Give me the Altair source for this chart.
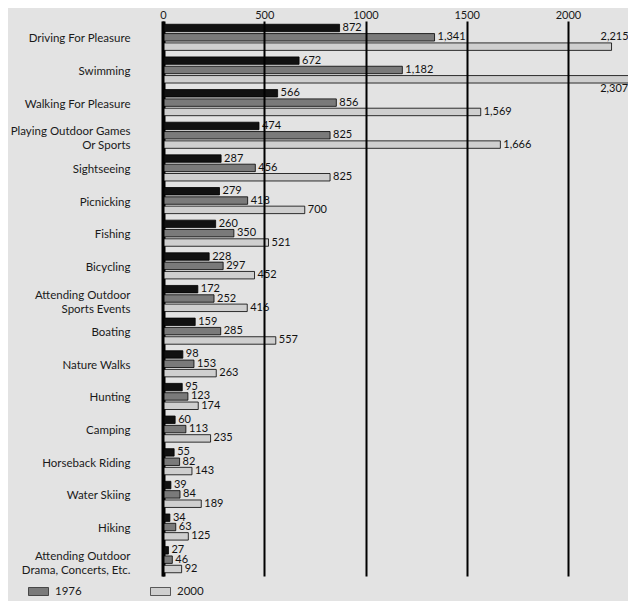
import altair as alt
import pandas as pd

categories = [
    "Driving For Pleasure", "Swimming", "Walking For Pleasure",
    "Playing Outdoor Games|Or Sports", "Sightseeing", "Picnicking", "Fishing",
    "Bicycling", "Attending Outdoor|Sports Events", "Boating", "Nature Walks",
    "Hunting", "Camping", "Horseback Riding", "Water Skiing", "Hiking",
    "Attending Outdoor|Drama, Concerts, Etc.",
]
years = ["1960", "1976", "2000"]
v1960 = [872, 672, 566, 474, 287, 279, 260, 228, 172, 159, 98, 95, 60, 55, 39, 34, 27]
v1976 = [1341, 1182, 856, 825, 456, 418, 350, 297, 252, 285, 153, 123, 113, 82, 84, 63, 46]
v2000 = [2215, 2307, 1569, 1666, 825, 700, 521, 452, 416, 557, 263, 174, 235, 143, 189, 125, 92]
x_ticks = [0, 500, 1000, 1500, 2000]

rows = []
for yr, vals in zip(years, [v1960, v1976, v2000]):
    for c, v in zip(categories, vals):
        rows.append({"category": c, "year": yr, "value": v})
df = pd.DataFrame(rows)

FONT = "Lato"

y_enc = alt.Y(
    "category:N", sort=categories,
    scale=alt.Scale(paddingInner=0.2, paddingOuter=0.1),
    axis=alt.Axis(
        title=None, ticks=False, domainColor="black", domainWidth=4,
        labelPadding=33, labelExpr="split(datum.label, '|')",
        labelLineHeight=14,
        labelOffset={"condition": {"test": "indexof(datum.value, '|') >= 0", "value": -3}, "value": 2},
        labelAlign="right",
        labelFontSize=11.5, labelColor="#1a1a1a", labelLimit=220, labelFont=FONT,
    ),
)
yoff = alt.YOffset("year:N", sort=years, scale=alt.Scale(paddingInner=0.2, paddingOuter=0))
x_enc = alt.X(
    "value:Q",
    scale=alt.Scale(domain=[0, 2000], range=[0, 405], nice=False, zero=True),
    axis=alt.Axis(
        orient="top", values=x_ticks, grid=True, gridColor="black", gridWidth=2,
        gridOpacity=1, ticks=False, domain=False, labelPadding=3, labelFontSize=11,
        labelBaseline="alphabetic", labelFlush=False,
        labelFont=FONT, labelColor="#1a1a1a", zindex=1, title=None, format="d",
    ),
)

color = alt.Color(
    "year:N", sort=years,
    scale=alt.Scale(domain=years, range=["#111111", "#7a7a7a", "#cfcfcf"]),
    legend=alt.Legend(
        values=["1976", "2000"], orient="none", legendX=-135, legendY=560,
        direction="horizontal", title=None, symbolType="M-1,-0.4H1V0.4H-1Z",
        symbolSize=400, symbolStrokeColor="black", symbolStrokeWidth=0.6,
        symbolOpacity=1, labelFontSize=11.5, labelFont=FONT, labelOffset=6,
        columnPadding=67, labelColor="#1a1a1a",
    ),
)

base = alt.Chart(df)
bars = base.mark_bar(stroke="black", strokeWidth=0.8).encode(
    x=x_enc, y=y_enc, yOffset=yoff, color=color
)
labels = base.transform_filter("datum.value < 2100").mark_text(
    align="left", baseline="middle", dx=3, fontSize=11, font=FONT, color="#111"
).encode(
    x="value:Q", y=alt.Y("category:N", sort=categories), yOffset=yoff,
    text=alt.Text("value:Q", format=",d"),
)
lab_a = base.transform_filter(
    "datum.year == '2000' && datum.category == 'Driving For Pleasure'"
).mark_text(align="right", baseline="middle", dx=17, dy=-10, fontSize=11, font=FONT, color="#111").encode(
    x="value:Q", y=alt.Y("category:N", sort=categories), yOffset=yoff,
    text=alt.Text("value:Q", format=",d"),
)
lab_b = base.transform_filter(
    "datum.year == '2000' && datum.category == 'Swimming'"
).mark_text(align="right", baseline="middle", dx=-2, dy=10, fontSize=11, font=FONT, color="#111").encode(
    x="value:Q", y=alt.Y("category:N", sort=categories), yOffset=yoff,
    text=alt.Text("value:Q", format=",d"),
)

chart = alt.layer(bars, labels, lab_a, lab_b).properties(
    width=465, height=555,
    autosize=alt.AutoSizeParams(type="none"),
    padding={"left": 155, "top": 13, "right": 0, "bottom": 25},
    background="#e3e3e3",
).configure_view(stroke=None)

chart.save("out.html", embed_options={"renderer": "svg", "actions": False})
